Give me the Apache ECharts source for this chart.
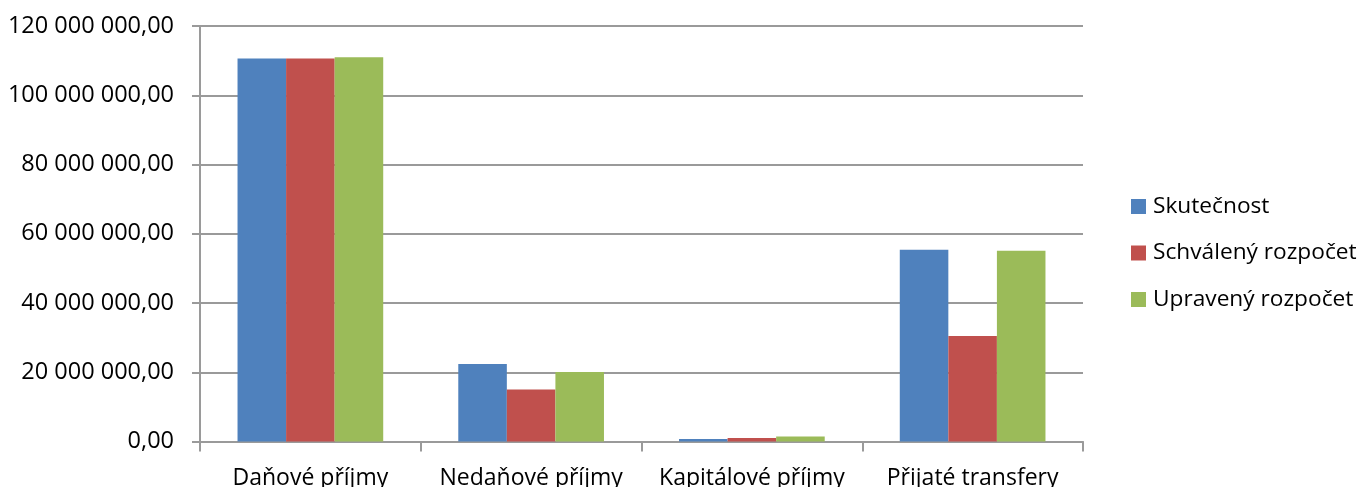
<!DOCTYPE html>
<html><head><meta charset="utf-8">
<script src="https://cdn.jsdelivr.net/npm/echarts@6/dist/echarts.min.js"></script>
<style>html,body{margin:0;padding:0;background:#fff}#c{width:1358px;height:487px}</style>
</head><body><div id="c"></div>
<script>
const categories = ['Daňové příjmy', 'Nedaňové příjmy', 'Kapitálové příjmy', 'Přijaté transfery'];
const seriesNames = ['Skutečnost', 'Schválený rozpočet', 'Upravený rozpočet'];
const skutecnost = [110600000, 22400000, 700000, 55400000];
const schvaleny = [110600000, 15000000, 1000000, 30500000];
const upraveny = [111000000, 20100000, 1450000, 55100000];
const colors = ['#4F81BD', '#C0504D', '#9BBB59'];
const FONT = 'Open Sans';

function fmt(v){
  const s = Math.round(v).toString().replace(/\B(?=(\d{3})+(?!\d))/g, ' ');
  return s + ',00';
}
const values = [skutecnost, schvaleny, upraveny];
const chart = echarts.init(document.getElementById('c'));
chart.setOption({
  animation: false,
  textStyle: {fontFamily: FONT},
  grid: {left: 200, right: 275, top: 26, bottom: 45.5, containLabel: false, outerBoundsMode: 'none'},
  legend: {
    orient: 'vertical', left: 1126, top: 190, itemGap: 23.5,
    itemWidth: 15, itemHeight: 15, icon: 'rect',
    textStyle: {fontFamily: FONT, fontSize: 22.7, color: '#000', padding: [0,0,0,2]},
    data: seriesNames
  },
  xAxis: {
    type: 'category', data: categories,
    axisLine: {lineStyle: {color: '#9a9a9a', width: 2}},
    axisTick: {show: true, length: 10, lineStyle: {color: '#9a9a9a', width: 2}},
    axisLabel: {fontFamily: FONT, fontSize: 23, color: '#000', margin: 25, interval: 0, hideOverlap: false}
  },
  yAxis: {
    type: 'value', min: 0, max: 120000000, interval: 20000000,
    axisLine: {show: true, lineStyle: {color: '#9a9a9a', width: 2}},
    axisTick: {show: true, length: 8, lineStyle: {color: '#9a9a9a', width: 2}},
    splitLine: {lineStyle: {color: '#9a9a9a', width: 2}},
    axisLabel: {fontFamily: FONT, fontSize: 23.5, color: '#000', margin: 26, formatter: fmt}
  },
  series: seriesNames.map((n, i) => ({
    name: n, type: 'bar', data: values[i],
    barGap: '0%', barCategoryGap: '34%',
    itemStyle: {color: colors[i]}
  }))
});
</script></body></html>
